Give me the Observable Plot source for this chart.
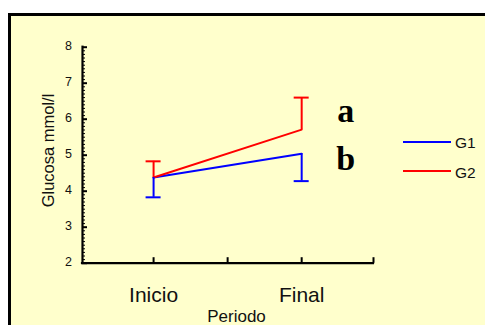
<!DOCTYPE html>
<html><head><meta charset="utf-8">
<script src="https://cdn.jsdelivr.net/npm/d3@7"></script>
<script src="https://cdn.jsdelivr.net/npm/@observablehq/plot@0.6"></script>
<style>
html,body{margin:0;padding:0;background:#fff;width:485px;height:325px;overflow:hidden;}
#wrap{position:relative;width:485px;height:325px;}
#panel{position:absolute;left:8px;top:13px;width:500px;height:340px;background:#FFFFCC;border:3px solid #000;box-sizing:border-box;}
#chart{position:absolute;left:0;top:0;}
#legend{position:absolute;left:403px;top:126.75px;font-family:"Liberation Sans",Arial,sans-serif;font-size:15.5px;color:#111;}
.row{display:flex;align-items:center;height:29.5px;}
.sw{width:48px;height:2px;margin-right:4px;}
.lb{padding-top:3px;line-height:1;}
</style></head><body>
<div id="wrap"><div id="panel"></div><div id="chart"></div><div id="legend"></div></div>
<script>
const periods = ["Inicio", "Final"];
const periodX = [1, 3];
const groups = ["G1", "G2"];
const colors = ["#0000FF", "#FF0000"];
const meanG1 = [4.38, 5.04];
const meanG2 = [4.38, 5.71];
const boundG1 = [3.83, 4.28];   // lower error bar ends
const boundG2 = [4.83, 6.60];   // upper error bar ends
const letters = ["b", "a"];
const letterY = [4.90, 6.22];
const xDomain = [0.04, 3.97];
const yDomain = [2, 8];
const yTicks = [2, 3, 4, 5, 6, 7, 8];
const yMinor = d3.range(20, 81).filter(v => v % 10 !== 0).map(v => v / 10);
const xTicks = [1, 2, 3, 3.97];

const W = 485, H = 325, mL = 82, mR = 112, mT = 46.7, mB = 62.3;
const plotW = W - mL - mR, plotH = H - mT - mB;

const means = [meanG1, meanG2], bounds = [boundG1, boundG2];
const rows = [];
groups.forEach((g, gi) => periods.forEach((p, pi) => rows.push({
  group: g, period: p, x: periodX[pi], mean: means[gi][pi], bound: bounds[gi][pi]
})));
const letterRows = groups.map((g, gi) => ({group: g, x: periodX[1], y: letterY[gi], t: letters[gi]}));

const chart = Plot.plot({
  width: W, height: H, marginLeft: mL, marginRight: mR, marginTop: mT, marginBottom: mB,
  style: {background: "transparent", fontFamily: "'Liberation Sans', Arial, sans-serif", color: "#111", overflow: "visible"},
  x: {domain: xDomain, axis: null},
  y: {domain: yDomain, axis: null},
  color: {domain: groups, range: colors},
  marks: [
    Plot.axisY(yTicks, {tickSize: 0, tickPadding: 10.5, fontSize: 12.5, label: null, dy: -1.5}),
    Plot.axisX(periodX, {tickSize: 0, tickPadding: 24, fontSize: 21, label: null,
      tickFormat: d => periods[periodX.indexOf(d)]}),
    Plot.tickY(yMinor, {y: d => d, insetRight: plotW - 3, stroke: "#000", strokeWidth: 1}),
    Plot.tickY(yTicks, {y: d => d, insetRight: plotW - 5, stroke: "#000", strokeWidth: 2}),
    Plot.tickX(xTicks, {x: d => d, insetTop: plotH - 5.5, stroke: "#000", strokeWidth: 2}),
    Plot.ruleX([xDomain[0]], {stroke: "#000", strokeWidth: 2.2, strokeLinecap: "square"}),
    Plot.ruleY([yDomain[0]], {stroke: "#000", strokeWidth: 2.2, strokeLinecap: "square"}),
    Plot.line(rows, {x: "x", y: "mean", z: "group", stroke: "group", strokeWidth: 2}),
    Plot.ruleX(rows, {x: "x", y1: "mean", y2: "bound", stroke: "group", strokeWidth: 2}),
    Plot.ruleY(rows, {y: "bound", x1: "x", x2: "x", insetLeft: -7.5, insetRight: -7.5, stroke: "group", strokeWidth: 2}),
    Plot.text(letterRows, {x: "x", y: "y", text: "t", dx: 44, fontSize: 34, fontWeight: "bold",
      fontFamily: "'Liberation Serif', 'Times New Roman', serif", fill: "#000"}),
    Plot.text(["Glucosa mmol/l"], {text: d => d, frameAnchor: "left", textAnchor: "middle", lineAnchor: "middle",
      rotate: -90, dx: -33.3, dy: -4.7, fontSize: 16.5}),
    Plot.text(["Periodo"], {text: d => d, frameAnchor: "bottom", textAnchor: "middle", lineAnchor: "middle",
      dx: 8.5, dy: 53, fontSize: 17})
  ]
});
document.getElementById("chart").appendChild(chart);

const legend = document.getElementById("legend");
groups.forEach((g, i) => {
  const row = document.createElement("div");
  row.className = "row";
  row.innerHTML = `<div class="sw" style="background:${colors[i]}"></div><span class="lb">${g}</span>`;
  legend.appendChild(row);
});
</script>
</body></html>
